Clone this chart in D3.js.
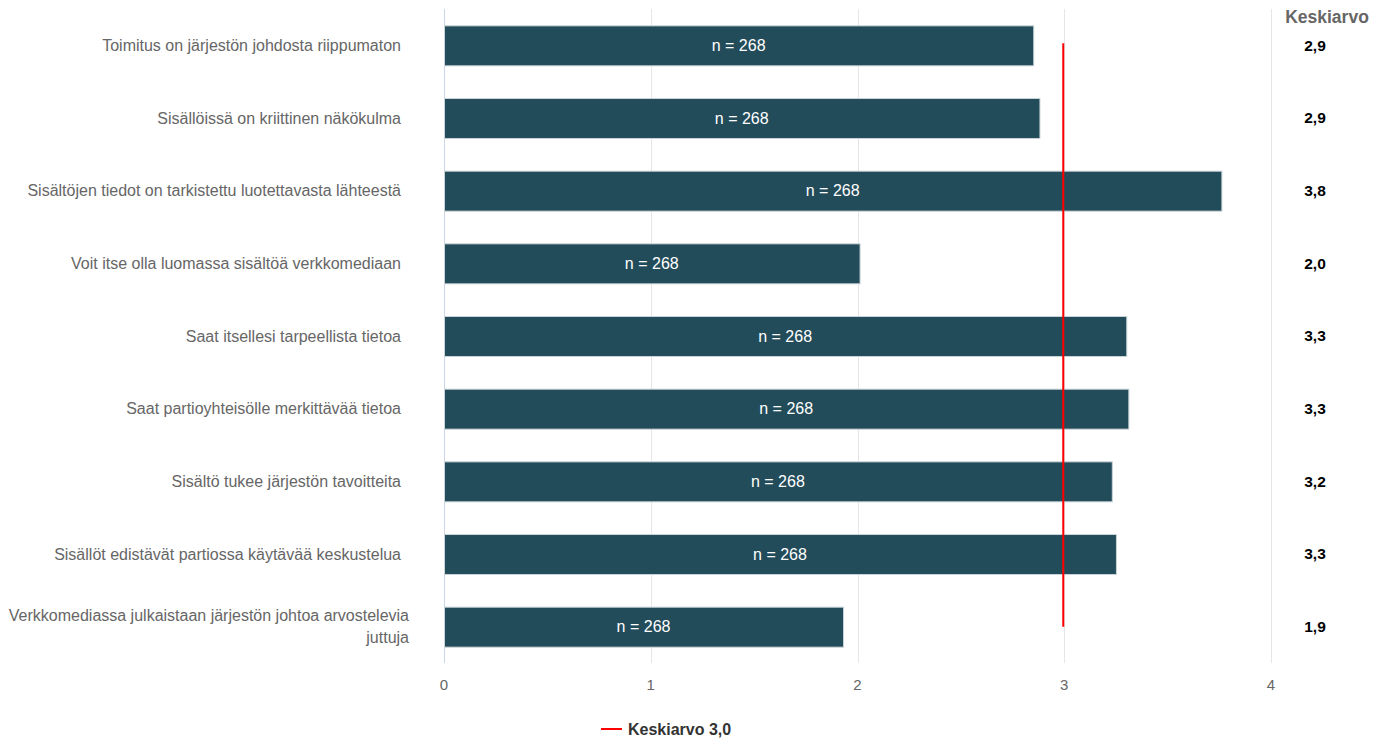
<!DOCTYPE html>
<html>
<head>
<meta charset="utf-8">
<script src="https://cdn.jsdelivr.net/npm/d3@7"></script>
<style>
  html, body { margin: 0; padding: 0; background: #ffffff; }
  svg { display: block; font-family: "Liberation Sans", Arial, sans-serif; }
</style>
</head>
<body>
<svg id="chart" width="1388" height="740"></svg>
<script>
// Survey statements (categories), mean scores and respondent counts
const categories = [
  "Toimitus on järjestön johdosta riippumaton",
  "Sisällöissä on kriittinen näkökulma",
  "Sisältöjen tiedot on tarkistettu luotettavasta lähteestä",
  "Voit itse olla luomassa sisältöä verkkomediaan",
  "Saat itsellesi tarpeellista tietoa",
  "Saat partioyhteisölle merkittävää tietoa",
  "Sisältö tukee järjestön tavoitteita",
  "Sisällöt edistävät partiossa käytävää keskustelua",
  "Verkkomediassa julkaistaan järjestön johtoa arvostelevia juttuja"
];
const means = [2.85, 2.88, 3.76, 2.01, 3.30, 3.31, 3.23, 3.25, 1.93];
const counts = [268, 268, 268, 268, 268, 268, 268, 268, 268];
const overallMean = 3.0;
const xTicks = [0, 1, 2, 3, 4];
const meanHeader = "Keskiarvo";
const legendLabel = "Keskiarvo 3,0";

const svg = d3.select("#chart");
const plot = { left: 444, right: 1271, top: 9, bottom: 663 };

const x = d3.scaleLinear().domain([0, 4]).range([plot.left, plot.right]);
const y = d3.scaleBand().domain(categories).range([plot.top, plot.bottom]).paddingInner(0.45).paddingOuter(0.225);
const yCenter = d3.scaleBand().domain(categories).range([plot.top, plot.bottom]);

const fmt = v => d3.format(".1f")(v).replace(".", ",");

// Vertical gridlines
svg.append("g").selectAll("line").data(xTicks).join("line")
  .attr("x1", d => Math.round(x(d)) + 0.5).attr("x2", d => Math.round(x(d)) + 0.5)
  .attr("y1", plot.top).attr("y2", plot.bottom)
  .attr("stroke", d => d === 0 ? "#ccd6eb" : "#e6e6e6")
  .attr("stroke-width", 1);

// Bars
svg.append("g").selectAll("rect").data(categories).join("rect")
  .attr("x", x(0) + 0.5)
  .attr("y", d => y(d) + 0.5)
  .attr("width", (d, i) => x(means[i]) - x(0))
  .attr("height", y.bandwidth())
  .attr("fill", "#234c5a")
  .attr("stroke", "#c9d3d8")
  .attr("stroke-width", 1);

// Respondent count inside each bar
svg.append("g").selectAll("text").data(categories).join("text")
  .attr("x", (d, i) => (x(0) + x(means[i])) / 2)
  .attr("y", d => yCenter(d) + yCenter.bandwidth() / 2)
  .attr("dy", "0.35em")
  .attr("text-anchor", "middle")
  .attr("fill", "#ffffff")
  .style("font-size", "16px")
  .text((d, i) => "n = " + counts[i]);

// Overall mean reference line
const firstC = yCenter(categories[0]) + yCenter.bandwidth() / 2;
const lastC = yCenter(categories[categories.length - 1]) + yCenter.bandwidth() / 2;
svg.append("line")
  .attr("x1", x(overallMean) - 1).attr("x2", x(overallMean) - 1)
  .attr("y1", firstC - 2).attr("y2", lastC)
  .attr("stroke", "#ff0000").attr("stroke-width", 2);

// Category labels (wrapped when too long)
const labelX = 409;
const labelG = svg.append("g");
categories.forEach((c, i) => {
  const cy = yCenter(c) + yCenter.bandwidth() / 2;
  const lines = c.length > 58 ? [c.slice(0, c.lastIndexOf(" ")), c.slice(c.lastIndexOf(" ") + 1)] : [c];
  const t = labelG.append("text")
    .attr("text-anchor", "end")
    .attr("fill", "#666666")
    .style("font-size", "16px");
  const lh = 22;
  lines.forEach((ln, j) => {
    t.append("tspan")
      .attr("x", lines.length > 1 ? labelX : labelX - 8)
      .attr("y", cy + (j - (lines.length - 1) / 2) * lh)
      .attr("dy", "0.35em")
      .text(ln);
  });
});

// X axis tick labels
svg.append("g").selectAll("text").data(xTicks).join("text")
  .attr("x", d => x(d))
  .attr("y", 690)
  .attr("text-anchor", "middle")
  .attr("fill", "#666666")
  .style("font-size", "15px")
  .text(d => d);

// Mean column on the right
svg.append("text")
  .attr("x", 1327).attr("y", 23)
  .attr("text-anchor", "middle")
  .attr("fill", "#666666")
  .style("font-size", "17.5px").style("font-weight", "bold")
  .text(meanHeader);

svg.append("g").selectAll("text").data(categories).join("text")
  .attr("x", 1315)
  .attr("y", d => yCenter(d) + yCenter.bandwidth() / 2)
  .attr("dy", "0.35em")
  .attr("text-anchor", "middle")
  .attr("fill", "#000000")
  .style("font-size", "15.5px").style("font-weight", "bold")
  .text((d, i) => fmt(means[i]));

// Legend
const lg = svg.append("g").attr("transform", "translate(601,729)");
lg.append("line").attr("x1", 0).attr("x2", 21).attr("y1", 0).attr("y2", 0)
  .attr("stroke", "#ff0000").attr("stroke-width", 2);
lg.append("text").attr("x", 27).attr("y", 0).attr("dy", "0.35em")
  .attr("fill", "#333333")
  .style("font-size", "16px").style("font-weight", "bold")
  .text(legendLabel);
</script>
</body>
</html>
